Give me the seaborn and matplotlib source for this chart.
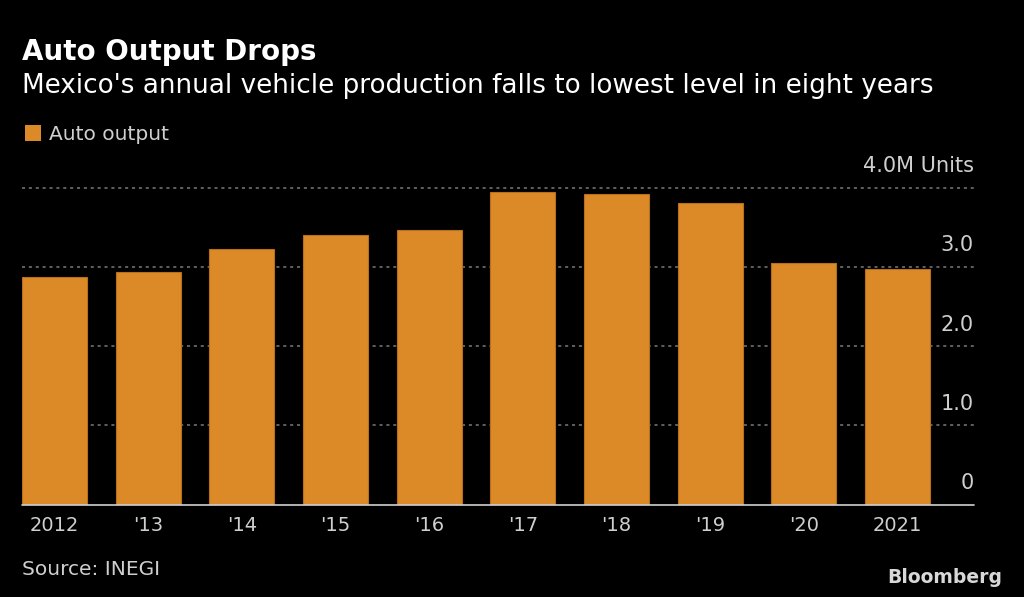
import pandas as pd
import matplotlib.pyplot as plt
import seaborn as sns

sns.set_theme(style="dark")
plt.rcParams['font.family'] = ['DejaVu Sans']

# 数据：墨西哥汽车年产量（百万辆）
years = ["2012", "'13", "'14", "'15", "'16", "'17", "'18", "'19", "'20", "2021"]
output = [2.88, 2.945, 3.23, 3.405, 3.47, 3.95, 3.93, 3.82, 3.05, 2.98]
y_ticks = [0, 1, 2, 3, 4]
y_labels = ["0", "1.0", "2.0", "3.0", "4.0M Units"]

df = pd.DataFrame({"year": years, "output": output})

bg = "black"
bar_color = "#db8a27"
text_gray = "#cfcfcf"

fig = plt.figure(figsize=(10.24, 5.97), dpi=100, facecolor=bg)
ax = fig.add_axes([22 / 1024, (597 - 504.5) / 597, 952 / 1024, (504.5 - 188.3) / 597])
ax.set_facecolor(bg)

sns.barplot(data=df, x="year", y="output", ax=ax, color=bar_color, width=0.694,
            saturation=1, edgecolor="#b8701c", linewidth=0.8)

ax.set_xlim(-0.347, 9.816)
ax.set_ylim(0, 4.0)
for s in ax.spines.values():
    s.set_visible(False)
ax.grid(False)
ax.set_xlabel("")
ax.set_ylabel("")
ax.set_yticks([])
ax.tick_params(axis="x", length=0, pad=8, labelsize=14, labelcolor=text_gray)

# 网格线与右侧刻度标签
for v, lab in zip(y_ticks, y_labels):
    if v == 0:
        ax.axhline(v, color="#d0d0d0", linewidth=1.2, zorder=3, clip_on=False)
    else:
        ax.axhline(v, color="#7a7a7a", linewidth=1.1, linestyle=(0, (2, 2.5)), zorder=0, clip_on=False)
    ax.text(1.0, v + 0.15, lab, transform=ax.get_yaxis_transform(), ha="right", va="bottom",
            fontsize=15, color=text_gray)

# 标题、副标题、图例、来源
fig.text(22 / 1024, 1 - 60 / 597, "Auto Output Drops", fontsize=20, fontweight="heavy",
         color="white", ha="left", va="baseline")
fig.text(22 / 1024, 1 - 93 / 597, "Mexico's annual vehicle production falls to lowest level in eight years",
         fontsize=18.9, color="white", ha="left", va="baseline")
fig.patches.append(plt.Rectangle((25 / 1024, 1 - 141 / 597), 16 / 1024, 16 / 597,
                                 transform=fig.transFigure, facecolor=bar_color, edgecolor="none"))
fig.text(49 / 1024, 1 - 140 / 597, "Auto output", fontsize=14.5, color=text_gray,
         ha="left", va="baseline")
fig.text(22 / 1024, 1 - 575 / 597, "Source: INEGI", fontsize=14.5, color=text_gray,
         ha="left", va="baseline")
fig.text(1002 / 1024, 1 - 583 / 597, "Bloomberg", fontsize=13.5, fontweight="bold",
         color="#d8d8d8", ha="right", va="baseline")

fig.savefig("out.png", dpi=100, facecolor=bg)
